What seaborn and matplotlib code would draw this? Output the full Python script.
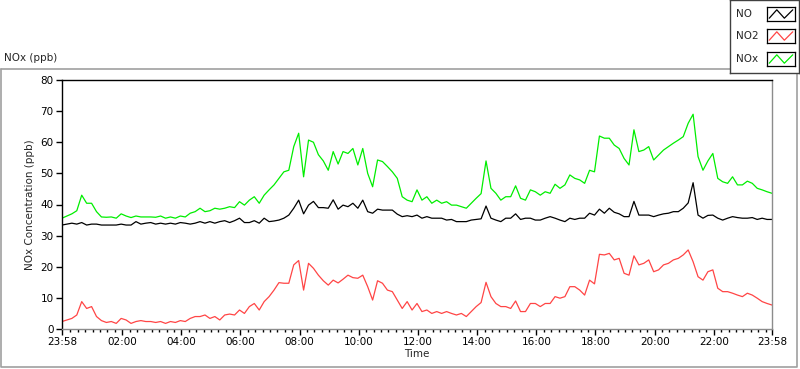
import numpy as np
import pandas as pd
import matplotlib
matplotlib.use("Agg")
import matplotlib.pyplot as plt
import seaborn as sns
from matplotlib.ticker import FixedLocator

sns.set_theme(style="white")
plt.rcParams['font.family'] = ['DejaVu Sans']

# 10-minute samples starting at 23:58 (hours since start)
step_min = 10
no_ppb = [
    33.4, 33.7, 34.0, 33.7, 34.2, 33.4, 33.7, 33.7, 33.4, 33.4,
    33.4, 33.4, 33.7, 33.4, 33.4, 34.5, 33.7, 34.0, 34.2, 33.7,
    34.0, 33.7, 34.0, 33.7, 34.2, 34.0, 33.7, 34.0,
    34.5, 34.0, 34.5, 34.0, 34.5, 34.8, 34.2, 34.8, 35.6, 34.2,
    34.2, 34.8, 34.0, 35.6, 34.5, 34.7, 35.0, 35.6, 36.6, 38.8,
    41.4, 37.0, 39.8, 41.0, 39.0, 39.0, 38.8, 41.5, 38.5,
    39.8, 39.3, 40.4, 38.8, 41.4, 37.7, 37.2, 38.5, 38.2, 38.2,
    38.2, 36.9, 36.1, 36.4, 36.1, 36.6, 35.6, 36.1, 35.6, 35.6,
    35.6, 35.0, 35.2, 34.5, 34.5, 34.5, 35.0, 35.2,
    35.4, 39.5, 35.6, 35.0, 34.5, 35.6, 35.6, 37.0, 35.2, 35.6,
    35.6, 35.0, 35.0, 35.6, 36.1, 35.6, 35.0, 34.5, 35.6, 35.2,
    35.6, 35.6, 37.2, 36.6, 38.5, 37.2, 38.8, 37.5, 37.0,
    36.1, 36.1, 41.0, 36.6, 36.6, 36.6, 36.1, 36.6, 37.0, 37.2,
    37.7, 37.7, 38.8, 40.5, 47.0, 36.6, 35.6, 36.5, 36.6, 35.6,
    35.0, 35.6, 36.1, 35.8, 35.6, 35.6, 35.8, 35.2, 35.6, 35.2, 35.2,
]
no2_ppb = [
    2.4, 2.9, 3.4, 4.5, 8.8, 6.6, 7.2, 4.0, 2.7, 2.1,
    2.4, 1.8, 3.4, 2.9, 1.8, 2.4, 2.7, 2.4, 2.4, 2.1,
    2.4, 1.8, 2.4, 2.1, 2.7, 2.4, 3.4, 4.0,
    4.0, 4.5, 3.4, 4.0, 2.9, 4.5, 4.8, 4.5, 6.1, 5.0,
    7.2, 8.2, 6.1, 8.8, 10.4, 12.5, 14.9, 14.7, 14.7, 20.6,
    22.0, 12.5, 21.1, 19.5, 17.3, 15.5, 14.1, 15.7, 14.8,
    16.0, 17.3, 16.5, 16.3, 17.3, 13.6, 9.3, 15.5, 14.7, 12.5,
    12.0, 9.3, 6.6, 8.8, 6.1, 8.2, 5.6, 6.1, 5.0, 5.6,
    5.0, 5.6, 5.0, 4.5, 5.0, 4.0, 5.6, 7.2,
    8.5, 15.0, 10.4, 8.2, 7.2, 7.2, 6.6, 9.0, 5.6, 5.6,
    8.2, 8.2, 7.2, 8.2, 8.2, 10.4, 9.9, 10.4, 13.6, 13.6,
    12.5, 10.9, 15.7, 14.5, 24.0, 23.8, 24.3, 22.2, 22.7,
    17.9, 17.3, 23.5, 20.6, 21.1, 22.2, 18.4, 19.0, 20.6, 21.1,
    22.2, 22.7, 23.8, 25.4, 21.6, 16.8, 15.7, 18.4, 19.0, 13.1,
    12.0, 12.0, 11.5, 10.9, 10.4, 11.5, 10.9, 9.9, 8.8, 8.2, 7.7,
]
nox_ppb = [
    35.6, 36.3, 37.0, 38.0, 43.0, 40.4, 40.4, 37.7, 36.0, 35.9,
    36.0, 35.6, 37.0, 36.3, 35.8, 36.3, 36.0, 36.0, 36.0, 35.9,
    36.3, 35.6, 36.0, 35.6, 36.3, 36.0, 37.2, 37.7,
    38.8, 37.7, 38.0, 38.8, 38.5, 38.8, 39.3, 39.0, 40.9, 39.8,
    41.4, 42.5, 40.4, 43.0, 44.7, 46.3, 48.4, 50.5, 51.0, 58.6,
    62.9, 48.9, 60.7, 60.0, 56.0, 54.0, 51.0, 57.0, 53.0,
    57.0, 56.4, 58.0, 52.7, 58.0, 50.0, 45.7, 54.3, 53.8, 52.2,
    50.5, 48.4, 42.5, 41.4, 40.9, 44.7, 41.4, 42.5, 40.4, 41.4,
    40.4, 40.9, 39.8, 39.8, 39.3, 38.8, 40.4, 42.0,
    43.5, 54.0, 45.2, 43.6, 41.4, 42.5, 42.5, 46.0, 42.0, 41.4,
    44.7, 44.1, 43.0, 44.1, 43.6, 46.5, 45.2, 46.3, 49.5, 48.4,
    47.9, 46.8, 51.0, 50.5, 62.0, 61.3, 61.3, 59.1, 58.0,
    54.8, 52.7, 64.0, 57.0, 57.5, 58.6, 54.3, 55.9, 57.5, 58.6,
    59.7, 60.7, 61.8, 66.1, 69.0, 55.4, 51.0, 54.0, 56.4, 48.4,
    47.3, 46.8, 48.9, 46.3, 46.3, 47.5, 46.8, 45.2, 44.7, 44.1, 43.6,
]
series_names = ["NO", "NO2", "NOx"]
series_colors = ["#000000", "#FF4545", "#00EE00"]
major_labels = ["23:58", "02:00", "04:00", "06:00", "08:00", "10:00", "12:00",
                "14:00", "16:00", "18:00", "20:00", "22:00", "23:58"]

n = len(no_ppb)
hours = np.arange(n) * step_min / 60.0
df = pd.concat([
    pd.DataFrame({"t": hours, "v": vals, "s": name})
    for name, vals in zip(series_names, [no_ppb, no2_ppb, nox_ppb])
])

W, H = 800, 369
fig = plt.figure(figsize=(W / 100, H / 100), dpi=100)
fig.patch.set_facecolor("white")

# outer panel frame (behind everything)
frame = plt.Line2D([1 / W, 1 / W, 797 / W, 797 / W],
                   [1 - 69 / H, 1 - 367 / H, 1 - 367 / H, 1 - 73 / H],
                   transform=fig.transFigure, color="#a0a0a0", lw=1.2, zorder=-5)
fig.add_artist(frame)
top_line = plt.Line2D([1 / W, 730 / W], [1 - 69 / H, 1 - 69 / H],
                      transform=fig.transFigure, color="#a0a0a0", lw=1.2, zorder=-5)
fig.add_artist(top_line)
fig.text(4 / W, 1 - 58 / H, "NOx (ppb)", fontsize=7.5, va="center", ha="left")

ax = fig.add_axes([62 / W, 1 - 329 / H, 710 / W, 249 / H])
sns.lineplot(data=df, x="t", y="v", hue="s", hue_order=series_names,
             palette=dict(zip(series_names, series_colors)), linewidth=0.9,
             legend=False, ax=ax, estimator=None)
ax.set_xlim(0, 24)
ax.set_ylim(0, 80)
ax.set_yticks(range(0, 81, 10))
offset = 2 / 60.0
major_pos = [0] + [offset + 2 * k for k in range(1, 12)] + [24]
ax.xaxis.set_major_locator(FixedLocator(major_pos))
ax.set_xticklabels(major_labels)
minor_pos = [offset + 0.25 * k for k in range(1, 96)]
ax.xaxis.set_minor_locator(FixedLocator(minor_pos))
ax.tick_params(axis="both", which="major", direction="out", length=4, width=1,
               colors="black", labelsize=7.5, pad=2, bottom=True, left=True)
ax.tick_params(axis="x", which="minor", direction="out", length=2.5, width=1,
               colors="black", bottom=True)
ax.set_xlabel("Time", fontsize=7.5, labelpad=1)
ax.set_ylabel("NOx Concentration (ppb)", fontsize=7.5, labelpad=4)
ax.grid(False)
for side in ["left", "top"]:
    ax.spines[side].set_color("black")
    ax.spines[side].set_linewidth(1.0)
for side in ["right", "bottom"]:
    ax.spines[side].set_color("#8c8c8c")
    ax.spines[side].set_linewidth(1.0)

# legend panel
lax = fig.add_axes([730 / W, 1 - 73 / H, 69 / W, 73 / H])
lax.set_xlim(730, 799)
lax.set_ylim(73, 0)
lax.set_xticks([])
lax.set_yticks([])
for sp in lax.spines.values():
    sp.set_color("#404040")
    sp.set_linewidth(1.0)
row_y = [14, 36, 59]
zig_x = [0.08, 0.35, 0.62, 0.92]
zig_y = [0.2, 0.8, 0.2, 0.8]
for name, col, yy in zip(series_names, series_colors, row_y):
    lax.text(736, yy, name, fontsize=7.5, va="center", ha="left")
    sax = fig.add_axes([767 / W, 1 - (yy + 7) / H, 28 / W, 14 / H])
    sax.plot(zig_x, zig_y, color=col, lw=0.9)
    sax.set_xlim(0, 1)
    sax.set_ylim(0, 1)
    sax.set_xticks([])
    sax.set_yticks([])
    for sp in sax.spines.values():
        sp.set_color("black")
        sp.set_linewidth(0.9)

fig.savefig("out.png", dpi=100)
